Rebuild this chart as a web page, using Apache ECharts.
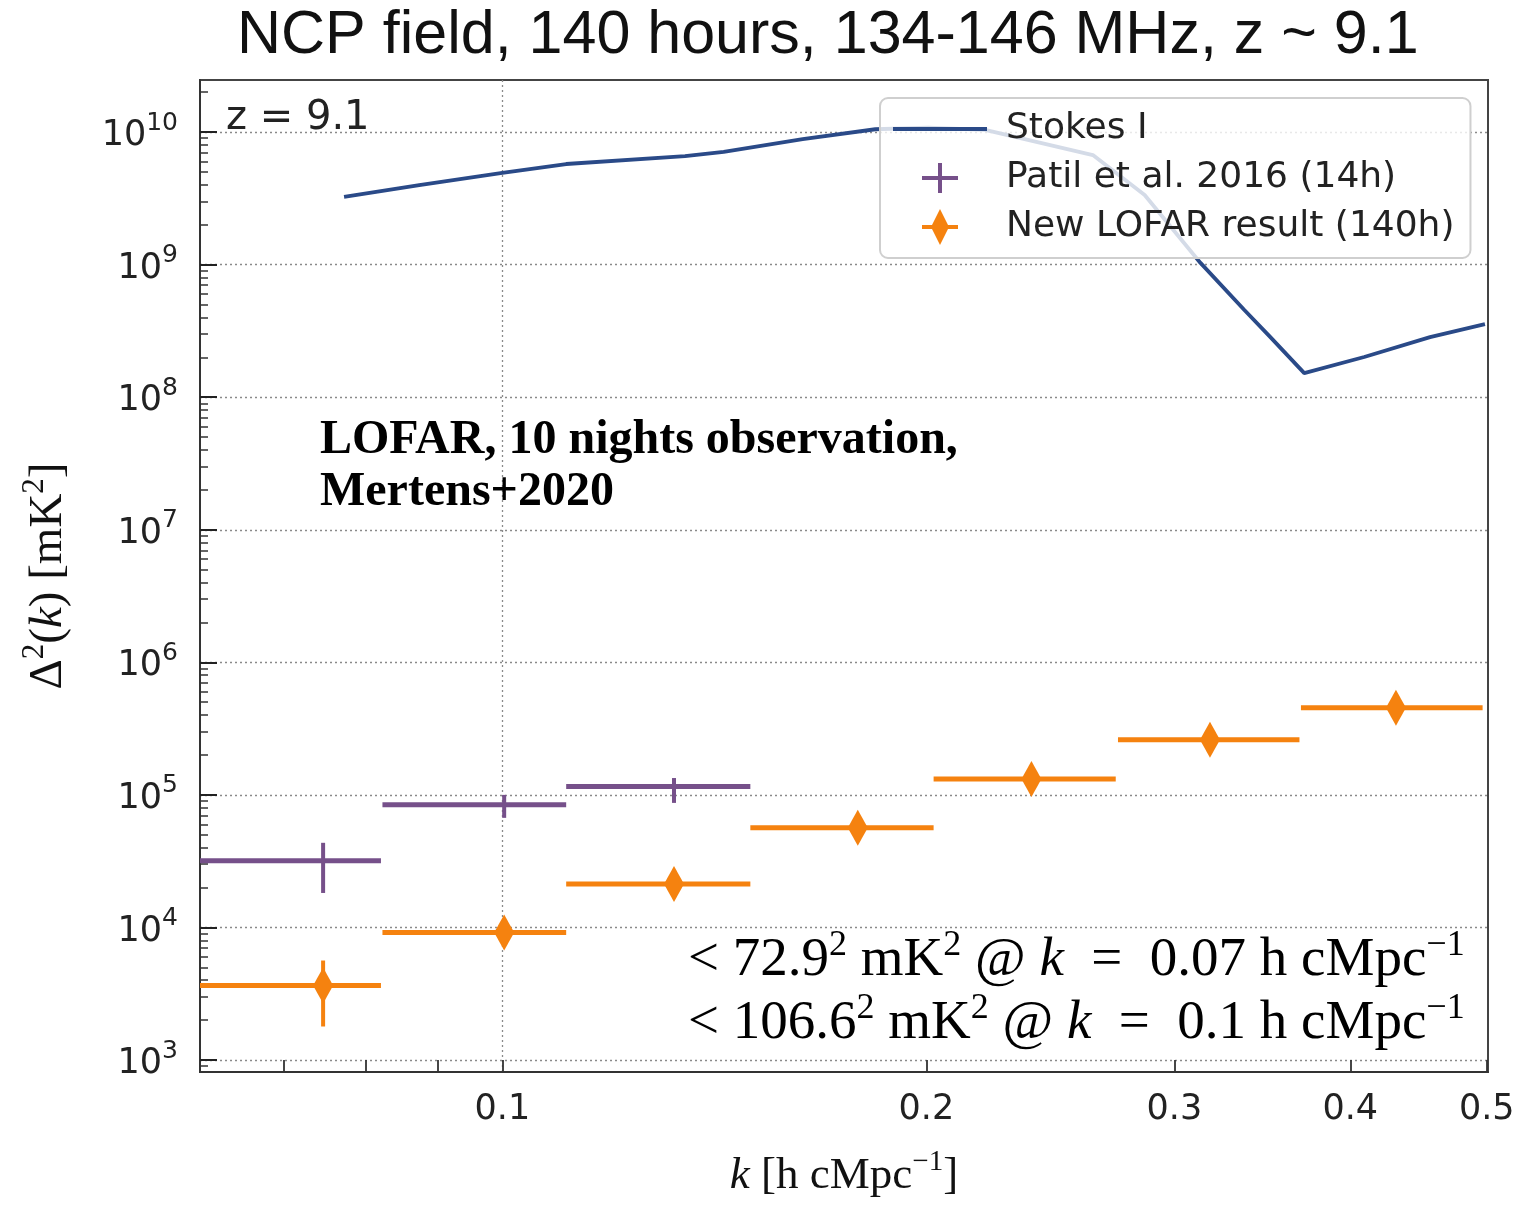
<!DOCTYPE html>
<html><head><meta charset="utf-8">
<script src="https://cdn.jsdelivr.net/npm/echarts@6/dist/echarts.min.js"></script>
<style>html,body{margin:0;padding:0;background:#fff}#c{width:1521px;height:1205px}</style>
</head><body><div id="c"></div>
<script>
// ---- data ----
const stokesK = [0.0772, 0.0873, 0.1000, 0.1110, 0.1348, 0.1436, 0.1634, 0.1840, 0.2006, 0.2202, 0.2626, 0.2858, 0.3131, 0.3364, 0.3510, 0.3710, 0.4092, 0.4557, 0.4985];
const stokesP = [3.24e9, 3.98e9, 4.93e9, 5.74e9, 6.59e9, 7.10e9, 8.86e9, 1.05e10, 1.08e10, 1.04e10, 6.71e9, 3.35e9, 1.03e9, 4.55e8, 2.84e8, 1.52e8, 2.01e8, 2.84e8, 3.56e8];

const patilK   = [0.0746, 0.1003, 0.1324];
const patilKLo = [0.0610, 0.0822, 0.1110];
const patilKHi = [0.0820, 0.1110, 0.1500];
const patilP   = [3.18e4, 8.41e4, 1.155e5];
const patilPLo = [1.82e4, 6.71e4, 8.70e4];
const patilPHi = [4.35e4, 1.00e5, 1.34e5];

const lofarK   = [0.0746, 0.1003, 0.1324, 0.1788, 0.2375, 0.3180, 0.4310];
const lofarKLo = [0.0610, 0.0822, 0.1110, 0.1500, 0.2024, 0.2736, 0.3690];
const lofarKHi = [0.0820, 0.1110, 0.1500, 0.2024, 0.2726, 0.3681, 0.4966];
const lofarP   = [3.65e3, 9.16e3, 2.13e4, 5.66e4, 1.32e5, 2.60e5, 4.55e5];
const lofarPLo = [1.79e3, null, null, null, null, null, null];
const lofarPHi = [5.63e3, null, null, null, null, null, null];

const xLabelValues = [0.1, 0.2, 0.3, 0.4, 0.5];
const xTickValues  = [0.07, 0.08, 0.09, 0.1, 0.2, 0.3, 0.4, 0.5];
const xGridValues  = [0.1];
const yMajorValues = [1e3, 1e4, 1e5, 1e6, 1e7, 1e8, 1e9, 1e10];
const yMinorMult   = [2, 3, 4, 5, 6, 7, 8, 9];

const seriesNames = ['Stokes I', 'Patil et al. 2016 (14h)', 'New LOFAR result (140h)'];
const titleText = 'NCP field, 140 hours, 134-146 MHz, z ~ 9.1';

// ---- build ----
const X_MIN = 0.061, X_MAX = 0.501, Y_MIN = 812, Y_MAX = 2.47e10;
const yMinorValues = [];
for (let e = 2; e <= 10; e++) yMinorMult.forEach(m => { const v = m * Math.pow(10, e); if (v > Y_MIN && v < Y_MAX) yMinorValues.push(v); });

const BLUE = '#2a4a88', PURPLE = '#76508a', ORANGE = '#f5820f';
const SERIF = '"Liberation Serif", "Times New Roman", serif';
const SANS = '"DejaVu Sans", sans-serif';

function errRender(color, diamond) {
  return function (params, api) {
    const k = api.value(0), p = api.value(1), kl = api.value(2), kh = api.value(3), pl = api.value(4), ph = api.value(5);
    const c = api.coord([k, p]), a = api.coord([kl, p]), b = api.coord([kh, p]);
    const ch = [{type: 'line', shape: {x1: a[0], y1: a[1], x2: b[0], y2: b[1]}, style: {stroke: color, lineWidth: 5}}];
    if (isFinite(pl) && isFinite(ph) && pl > 0 && ph > 0) {
      const lo = api.coord([k, pl]), hi = api.coord([k, ph]);
      ch.push({type: 'line', shape: {x1: lo[0], y1: lo[1], x2: hi[0], y2: hi[1]}, style: {stroke: color, lineWidth: 4}});
    }
    if (diamond) ch.push({type: 'polygon', shape: {points: [[c[0], c[1] - 18], [c[0] + 10, c[1]], [c[0], c[1] + 18], [c[0] - 10, c[1]]]}, style: {fill: color}});
    return {type: 'group', children: ch};
  };
}

const stokesData = stokesK.map((k, i) => [k, stokesP[i]]);
const patilData = patilK.map((k, i) => [k, patilP[i], patilKLo[i], patilKHi[i], patilPLo[i], patilPHi[i]]);
const lofarData = lofarK.map((k, i) => [k, lofarP[i], lofarKLo[i], lofarKHi[i], lofarPLo[i] == null ? NaN : lofarPLo[i], lofarPHi[i] == null ? NaN : lofarPHi[i]]);

const supRich = (f, fs, pad, fam) => ({
  t: {fontSize: f, fontFamily: fam, color: '#111', verticalAlign: 'bottom'},
  i: {fontSize: f, fontFamily: fam, fontStyle: 'italic', color: '#111', verticalAlign: 'bottom'},
  s: {fontSize: fs, fontFamily: fam, color: '#111', verticalAlign: 'bottom', padding: [0, 0, pad, 0]}
});

const iconLine = 'path://M0,0M108,36M0,16L94,16L94,20L0,20Z';
const iconCross = 'path://M0,0M108,36M29,16L65,16L65,20L29,20Z M45,3L49,3L49,33L45,33Z';
const iconDiamond = 'path://M0,0M108,36M29,16L65,16L65,20L29,20Z M47,0L56,18L47,36L38,18Z';

const chart = echarts.init(document.getElementById('c'), null, {renderer: 'canvas'});
chart.setOption({
  animation: false,
  backgroundColor: '#fff',
  title: {text: titleText, left: 232, top: 1, textStyle: {fontFamily: '"Liberation Sans", Arial, sans-serif', fontSize: 61, fontWeight: 'normal', color: '#111'}},
  grid: {left: 200, right: 33, top: 80, bottom: 133, show: true, borderColor: '#444', borderWidth: 2, backgroundColor: 'transparent'},
  legend: {
    left: 880, top: 98, orient: 'vertical', align: 'left',
    padding: [13, 16, 13, 13], itemGap: 13, itemWidth: 108, itemHeight: 36,
    backgroundColor: 'rgba(255,255,255,0.8)', borderColor: '#cfcfcf', borderWidth: 2, borderRadius: 8,
    itemStyle: {borderWidth: 0},
    textStyle: {fontFamily: SANS, fontSize: 36, color: '#222'},
    data: [
      {name: seriesNames[0], icon: iconLine},
      {name: seriesNames[1], icon: iconCross},
      {name: seriesNames[2], icon: iconDiamond}
    ]
  },
  xAxis: [
    {
      type: 'log', logBase: 10, min: X_MIN, max: X_MAX, position: 'bottom',
      axisLine: {show: true, onZero: false, lineStyle: {color: '#333', width: 2}},
      axisTick: {show: false, customValues: xGridValues},
      axisLabel: {customValues: xLabelValues, formatter: v => (+v).toFixed(1), fontFamily: SANS, fontSize: 35, color: '#222', margin: 20},
      splitLine: {show: true, lineStyle: {color: '#8a8a8a', type: [2, 3], width: 1.3}},
      minorTick: {show: false}, minorSplitLine: {show: false},
      name: '{i|k}{t| [h cMpc}{s|−1}{t|]}', nameLocation: 'middle', nameGap: 76,
      nameTextStyle: {rich: supRich(45, 29, 22, SERIF)}
    },
    {
      type: 'log', logBase: 10, min: X_MIN, max: X_MAX, position: 'bottom',
      axisLine: {show: false},
      axisTick: {show: true, inside: true, length: 12, customValues: xTickValues, lineStyle: {color: '#333', width: 1.8}},
      axisLabel: {show: false}, splitLine: {show: false}
    }
  ],
  yAxis: [
    {
      type: 'log', logBase: 10, min: Y_MIN, max: Y_MAX, position: 'left',
      axisLine: {show: true, onZero: false, lineStyle: {color: '#333', width: 2}},
      axisTick: {show: true, inside: true, length: 17, customValues: yMajorValues, lineStyle: {color: '#222', width: 2}},
      axisLabel: {
        customValues: yMajorValues, margin: 22,
        formatter: v => '{b|10}{s|' + Math.round(Math.log10(v)) + '}',
        rich: {
          b: {fontFamily: SANS, fontSize: 35, color: '#222', verticalAlign: 'bottom'},
          s: {fontFamily: SANS, fontSize: 25, color: '#222', verticalAlign: 'bottom', padding: [0, 0, 18, 0]}
        }
      },
      splitLine: {show: true, lineStyle: {color: '#8a8a8a', type: [2, 3], width: 1.3}},
      minorTick: {show: false}, minorSplitLine: {show: false},
      name: '{t|Δ}{s|2}{t|(}{i|k}{t|) [mK}{s|2}{t|]}', nameLocation: 'middle', nameGap: 128, nameRotate: 90,
      nameTextStyle: {rich: supRich(47, 31, 22, SERIF)}
    },
    {
      type: 'log', logBase: 10, min: Y_MIN, max: Y_MAX, position: 'left',
      axisLine: {show: false},
      axisTick: {show: true, inside: true, length: 8, customValues: yMinorValues, lineStyle: {color: '#333', width: 1.5}},
      axisLabel: {show: false}, splitLine: {show: false}
    }
  ],
  series: [
    {
      name: seriesNames[0], type: 'line', data: stokesData, xAxisIndex: 0, yAxisIndex: 0,
      showSymbol: false, symbol: 'none', color: BLUE, lineStyle: {color: BLUE, width: 3.8}, z: 3
    },
    {
      name: seriesNames[1], type: 'custom', data: patilData, xAxisIndex: 0, yAxisIndex: 0,
      encode: {x: 0, y: 1}, itemStyle: {color: PURPLE}, renderItem: errRender(PURPLE, false), z: 3
    },
    {
      name: seriesNames[2], type: 'custom', data: lofarData, xAxisIndex: 0, yAxisIndex: 0,
      encode: {x: 0, y: 1}, itemStyle: {color: ORANGE}, renderItem: errRender(ORANGE, true), z: 3
    }
  ],
  graphic: [
    {type: 'text', x: 226, y: 119, z: 10, style: {text: 'z = 9.1', font: '40px "DejaVu Sans"', fill: '#222', verticalAlign: 'middle', align: 'left'}},
    {type: 'text', x: 320, y: 467, z: 10, style: {text: 'LOFAR, 10 nights observation,\nMertens+2020', font: 'bold 48px "Liberation Serif"', lineHeight: 52, fill: '#000', verticalAlign: 'middle', align: 'left'}},
    {type: 'text', x: 688, y: 958, z: 10, style: {
      text: '{t|< 72.9}{s|2}{t| mK}{s|2}{t| @ }{i|k}{t|  =  0.07 h cMpc}{s|−1}',
      rich: supRich(55, 36, 25, SERIF), verticalAlign: 'middle', align: 'left'}},
    {type: 'text', x: 688, y: 1021, z: 10, style: {
      text: '{t|< 106.6}{s|2}{t| mK}{s|2}{t| @ }{i|k}{t|  =  0.1 h cMpc}{s|−1}',
      rich: supRich(55, 36, 25, SERIF), verticalAlign: 'middle', align: 'left'}}
  ]
});
</script></body></html>
